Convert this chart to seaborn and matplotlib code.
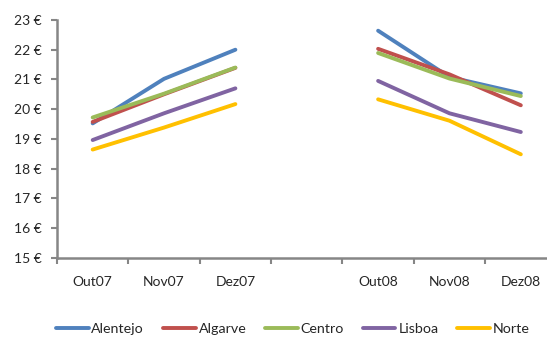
import numpy as np
import pandas as pd
import matplotlib
matplotlib.use("Agg")
import matplotlib.pyplot as plt
import seaborn as sns

sns.set_style("white")
plt.rcParams['font.family'] = ['Lato', 'DejaVu Sans']
plt.rcParams['font.size'] = 10

# categories on the x axis (blank slot separates the two years)
months = ["Out07", "Nov07", "Dez07", "", "Out08", "Nov08", "Dez08"]
regions = ["Alentejo", "Algarve", "Centro", "Lisboa", "Norte"]

# prices per region, 2007 and 2008 (Out, Nov, Dez)
alentejo = [19.52, 21.02, 22.00, 22.64, 21.08, 20.53]
algarve  = [19.57, 20.50, 21.39, 22.03, 21.17, 20.13]
centro   = [19.72, 20.52, 21.40, 21.89, 21.03, 20.44]
lisboa   = [18.96, 19.86, 20.70, 20.95, 19.86, 19.23]
norte    = [18.64, 19.38, 20.17, 20.33, 19.61, 18.48]

colors = ["#4F81BD", "#C0504D", "#9BBB59", "#8064A2", "#FFC000"]

used_months = ["Out07", "Nov07", "Dez07", "Out08", "Nov08", "Dez08"]
rows = []
for reg, vals in zip(regions, [alentejo, algarve, centro, lisboa, norte]):
    for m, v in zip(used_months, vals):
        rows.append({"mes": m, "pos": months.index(m), "regiao": reg,
                     "preco": v, "ano": m[-2:]})
df = pd.DataFrame(rows)

fig = plt.figure(figsize=(5.47, 3.38), dpi=100)
ax = fig.add_axes([57 / 547, 1 - 257.7 / 338, 499.5 / 547, 237.7 / 338])

sns.lineplot(data=df, x="pos", y="preco", hue="regiao", units="ano",
             estimator=None, palette=colors, hue_order=regions,
             linewidth=2.8, ax=ax, legend=False)

grey = "#868686"
ax.set_xlim(-0.5, 6.5)
ax.set_ylim(15, 23)
ax.set_yticks(np.arange(15, 24, 1))
ax.set_yticklabels([f"{v} €" for v in range(15, 24)])
ax.set_xticks(np.arange(-0.5, 7, 1))
ax.set_xticklabels([])
ax.set_xticks(np.arange(7), minor=True)
ax.set_xticklabels(months, minor=True)
ax.tick_params(axis="x", which="major", length=4, width=1.5, color=grey,
               direction="out", bottom=True)
ax.tick_params(axis="x", which="minor", length=0, pad=13)
ax.tick_params(axis="y", length=4, width=1.5, color=grey, direction="out",
               left=True, pad=7)
for s in ["top", "right"]:
    ax.spines[s].set_visible(False)
for s in ["left", "bottom"]:
    ax.spines[s].set_color(grey)
    ax.spines[s].set_linewidth(1.8)
ax.set_xlabel("")
ax.set_ylabel("")

handles = [plt.Line2D([], [], color=c, lw=2.8) for c in colors]
fig.legend(handles, regions, loc="center", bbox_to_anchor=(0.535, 0.026),
           ncol=5, frameon=False, handlelength=2.3, handletextpad=0.2,
           columnspacing=1.3, fontsize=10.3)

fig.savefig("out.png", dpi=100)
